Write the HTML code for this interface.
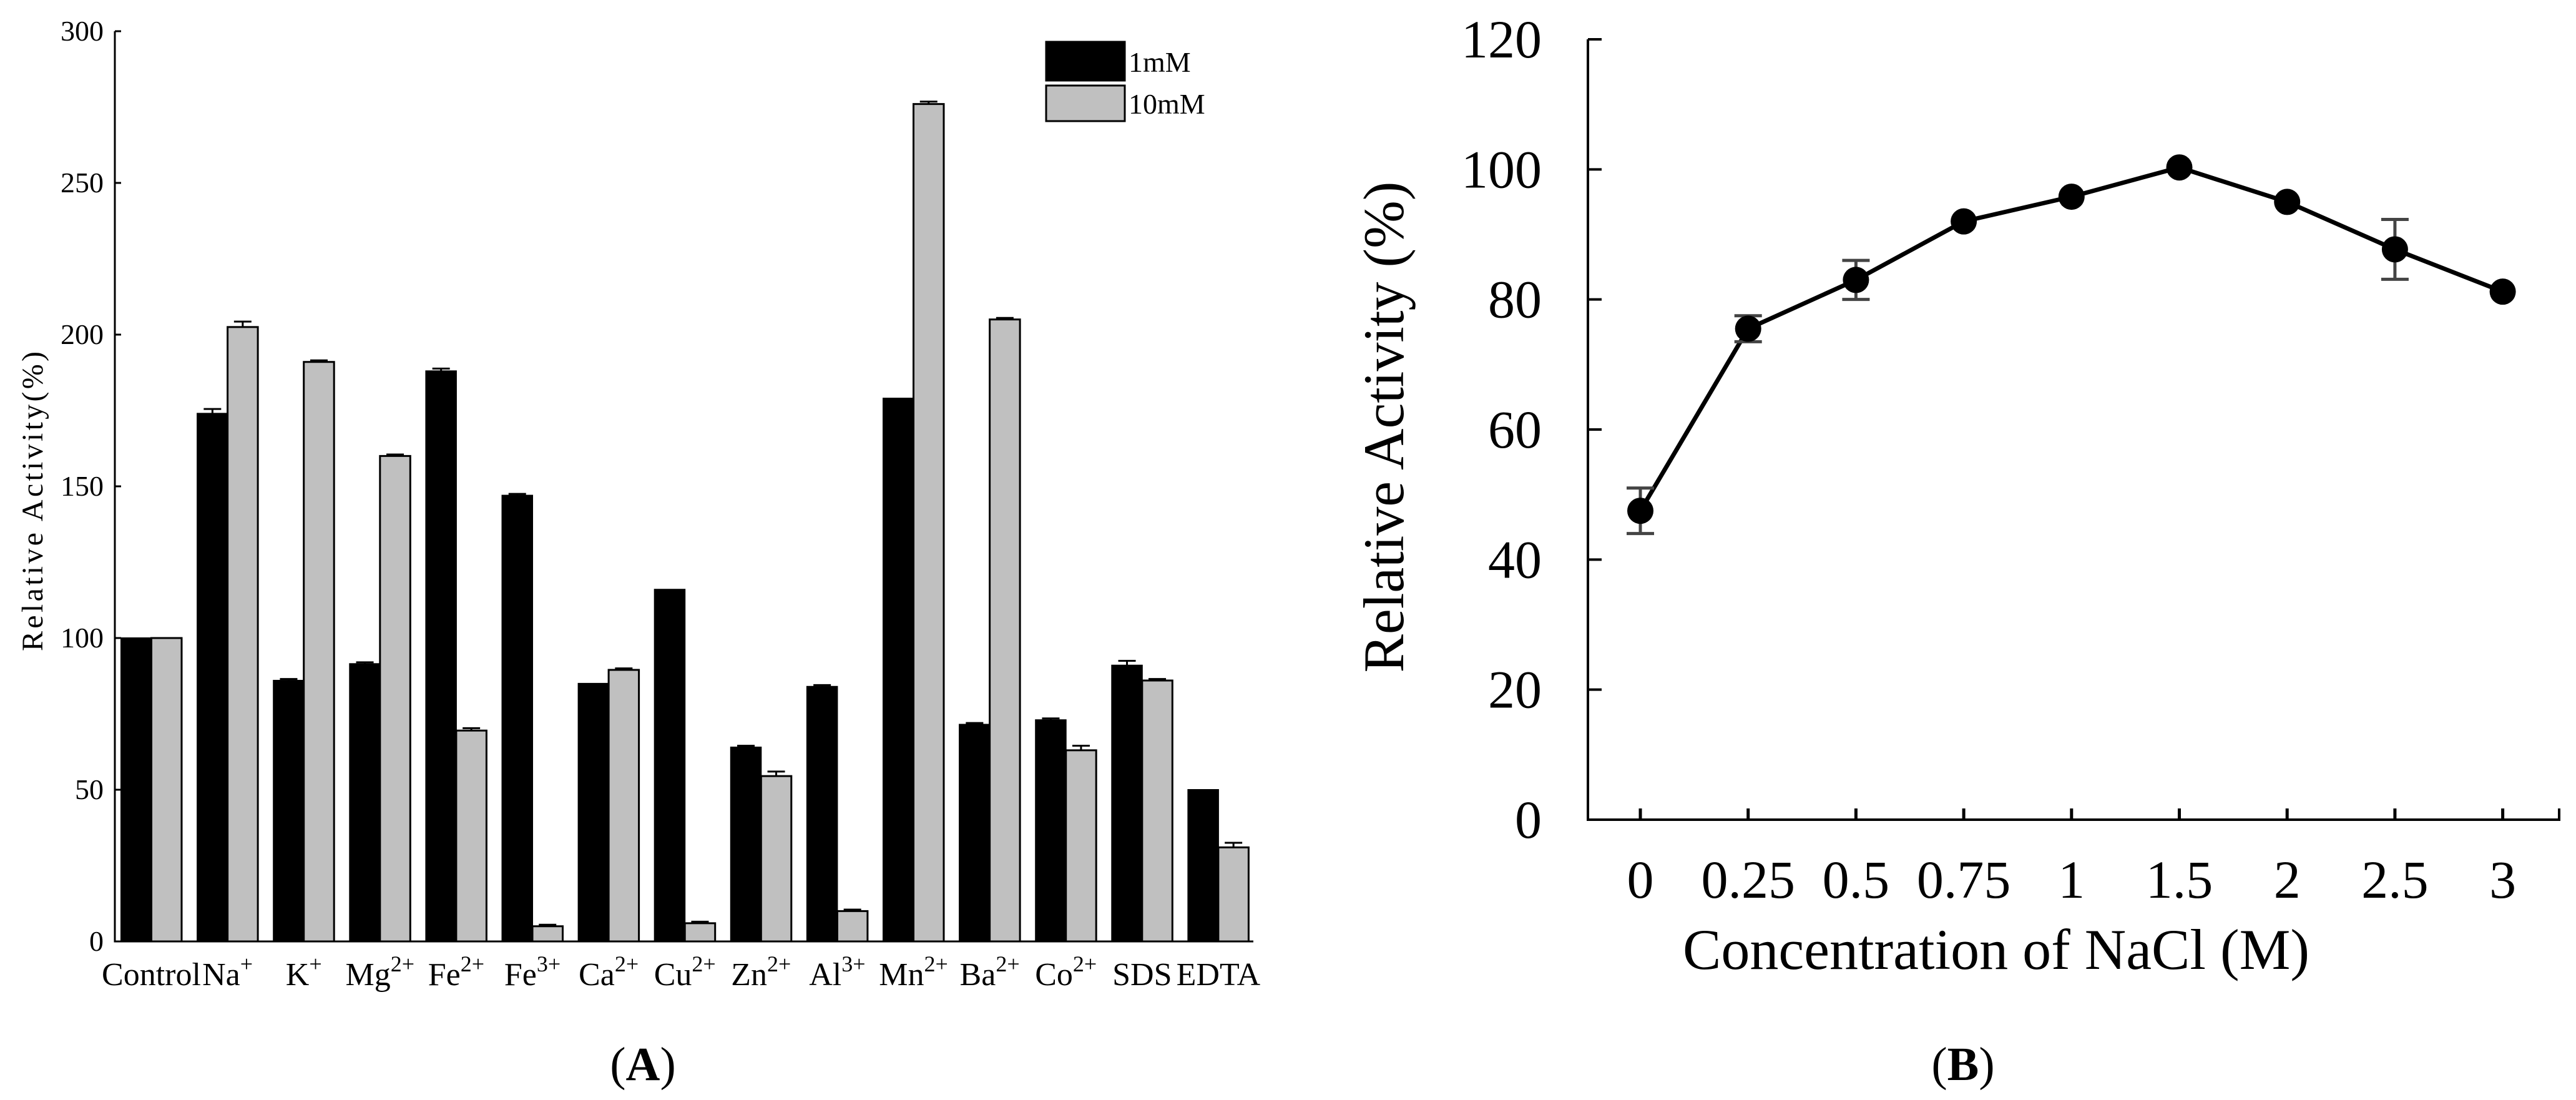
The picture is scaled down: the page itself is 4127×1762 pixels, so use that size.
<!DOCTYPE html>
<html><head><meta charset="utf-8"><style>
html,body{margin:0;padding:0;background:#fff;}
svg{display:block;font-family:"Liberation Serif",serif;}
</style></head><body>
<svg id="fig" width="4127" height="1762" viewBox="0 0 4127 1762" xmlns="http://www.w3.org/2000/svg">
<g id="chartA"></g>
<g id="chartB"></g>
</svg>
<script>
const catsA = ["Control","Na","K","Mg","Fe","Fe","Ca","Cu","Zn","Al","Mn","Ba","Co","SDS","EDTA"];
const supsA = ["","+","+","2+","2+","3+","2+","2+","2+","3+","2+","2+","2+","",""];
const vals1mM = [100,174,86,91.5,188,147,85,116,64,84,179,71.5,73,91,50];
const err1mM = [0,1.5,0.5,0.5,0.8,0.5,0,0,0.5,0.5,0,0.5,0.5,1.5,0];
const vals10mM = [100,202.5,191,160,69.5,5,89.5,6,54.5,10,276,205,63,86,31];
const err10mM = [0,1.8,0.5,0.5,0.8,0.5,0.5,0.5,1.5,0.5,0.8,0.5,1.5,0.5,1.5];
const ticksA = [0,50,100,150,200,250,300];

const catsB = ["0","0.25","0.5","0.75","1","1.5","2","2.5","3"];
const valsB = [47.5,75.5,83,92,95.8,100.3,95,87.7,81.2];
const errB = [3.5,2,3,0,0,0,0,4.6,0];
const ticksB = [0,20,40,60,80,100,120];

const NS="http://www.w3.org/2000/svg";
function mk(parent,tag,attrs,text){const e=document.createElementNS(NS,tag);for(const k in attrs)e.setAttribute(k,attrs[k]);if(text!==undefined)e.textContent=text;parent.appendChild(e);return e;}

// ---------- Chart A ----------
const A=document.getElementById('chartA');
const axA={x0:184,x1:2008,y0:1508,y1:50,max:300};
const yA=v=>axA.y0-(v/axA.max)*(axA.y0-axA.y1);
const gStart=194, gStep=122.1, bw=48.5;
const xA=i=>gStart+gStep*i;

for(let i=0;i<catsA.length;i++){
  let x=xA(i);
  let r=mk(A,'rect',{x:x,y:yA(vals1mM[i]),width:bw,height:axA.y0-yA(vals1mM[i]),fill:'#000',stroke:'#000','stroke-width':2});
  
  
  let r2=mk(A,'rect',{x:x+bw,y:yA(vals10mM[i]),width:bw,height:axA.y0-yA(vals10mM[i]),fill:'#c0c0c0',stroke:'#000','stroke-width':3});
  
  
  [[x,vals1mM[i],err1mM[i]],[x+bw,vals10mM[i],err10mM[i]]].forEach(([bx,v,e],k)=>{
    if(e<=0)return;
    const cx=bx+bw/2;
    const eb=mk(A,'path',{d:`M${cx} ${yA(v+e)}V${yA(v)} M${cx-14} ${yA(v+e)}H${cx+14}`,stroke:'#000','stroke-width':3,fill:'none'});
    
    
  });
  const t=mk(A,'text',{x:x+bw,y:1578,'text-anchor':'middle','font-size':52});
  
  
  t.textContent=catsA[i];
  if(supsA[i]){mk(t,'tspan',{dy:-22,'font-size':36},supsA[i]);}
}
mk(A,'path',{d:`M${axA.x0} ${axA.y1}V${axA.y0}H${axA.x1}`,stroke:'#000','stroke-width':3,fill:'none',});
ticksA.forEach(v=>{
  const tk=mk(A,'line',{x1:axA.x0,x2:axA.x0+10,y1:yA(v),y2:yA(v),stroke:'#000','stroke-width':3});
  
  
  const tl=mk(A,'text',{x:166,y:yA(v)+15,'text-anchor':'end','font-size':46},String(v));
  
  
});
mk(A,'text',{x:0,y:0,transform:'translate(68,803) rotate(-90)','text-anchor':'middle','font-size':48,textLength:480,},'Relative Activity(%)');
mk(A,'rect',{x:1676,y:67,width:126,height:62,fill:'#000',stroke:'#000','stroke-width':3,});
mk(A,'rect',{x:1676,y:137,width:126,height:57,fill:'#c0c0c0',stroke:'#000','stroke-width':3,});
mk(A,'text',{x:1808,y:115,'font-size':46,},'1mM');
mk(A,'text',{x:1808,y:182,'font-size':46,},'10mM');
const pa=mk(A,'text',{x:1030,y:1730,'text-anchor':'middle','font-size':76,},'(');
mk(pa,'tspan',{'font-weight':'bold'},'A');
pa.appendChild(document.createTextNode(')'));

// ---------- Chart B ----------
const B=document.getElementById('chartB');
const axB={x0:2544,x1:4100,y0:1313,y1:63,max:120};
const yB=v=>axB.y0-(v/axB.max)*(axB.y0-axB.y1);
const xB=i=>2628+172.7*i;
mk(B,'path',{d:`M${axB.x0} ${axB.y1}V${axB.y0}H${axB.x1}V${axB.y0-18}`,stroke:'#000','stroke-width':4,fill:'none',});
ticksB.forEach(v=>{
  const tk=mk(B,'line',{x1:axB.x0,x2:axB.x0+22,y1:yB(v),y2:yB(v),stroke:'#000','stroke-width':4});
  
  
  const tl=mk(B,'text',{x:2470,y:yB(v)+29,'text-anchor':'end','font-size':86},String(v));
  
  
});
catsB.forEach((c,i)=>{
  const tk=mk(B,'line',{x1:xB(i),x2:xB(i),y1:axB.y0,y2:axB.y0-18,stroke:'#000','stroke-width':5});
  
  
  const tl=mk(B,'text',{x:xB(i),y:1438,'text-anchor':'middle','font-size':86},c);
  
  
});
let d='';
valsB.forEach((v,i)=>{d+=(i?'L':'M')+xB(i)+' '+yB(v);});
const ln=mk(B,'path',{d:d,stroke:'#000','stroke-width':7,fill:'none'});


valsB.forEach((v,i)=>{
  const e=errB[i];
  if(e>0){
    const cx=xB(i);
    const eb=mk(B,'path',{d:`M${cx} ${yB(v+e)}V${yB(v-e)} M${cx-22} ${yB(v+e)}H${cx+22} M${cx-22} ${yB(v-e)}H${cx+22}`,stroke:'#444','stroke-width':5,fill:'none'});
    
    
  }
  const p=mk(B,'circle',{cx:xB(i),cy:yB(v),r:21,fill:'#000'});
  
  
});
mk(B,'text',{x:0,y:0,transform:'translate(2248,684) rotate(-90)','text-anchor':'middle','font-size':92,},'Relative Activity (%)');
mk(B,'text',{x:3198,y:1552,'text-anchor':'middle','font-size':92,},'Concentration of NaCl (M)');
const pb=mk(B,'text',{x:3145,y:1730,'text-anchor':'middle','font-size':76,},'(');
mk(pb,'tspan',{'font-weight':'bold'},'B');
pb.appendChild(document.createTextNode(')'));
</script>
</body></html>
